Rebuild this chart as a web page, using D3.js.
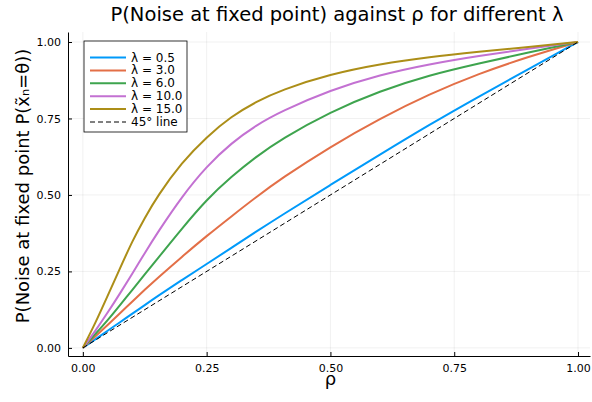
<!DOCTYPE html>
<html lang="en">
<head>
<meta charset="UTF-8">
<title>P(Noise at fixed point) against rho</title>
<script src="https://d3js.org/d3.v7.min.js"></script>
<style>
    body { margin: 0; background: #fff; }
    text { font-family: "DejaVu Sans", sans-serif; fill: #000; }
    .grid line { stroke: #000; stroke-opacity: 0.1; stroke-width: 0.6; }
</style>
</head>
<body>
<script>

    // values
    var rho = [0, 0.025, 0.05, 0.075, 0.1, 0.125, 0.15, 0.2, 0.25, 0.3, 0.35, 0.4, 0.5, 0.6, 0.7, 0.8, 0.9, 1.0];
    var lam05 = [0, 0.028, 0.056, 0.084, 0.112, 0.14, 0.168, 0.222, 0.274, 0.327, 0.38, 0.432, 0.533, 0.632, 0.73, 0.822, 0.912, 1];
    var lam3 = [0, 0.037, 0.075, 0.113, 0.152, 0.19, 0.227, 0.298, 0.366, 0.43, 0.493, 0.553, 0.658, 0.75, 0.83, 0.897, 0.952, 1];
    var lam6 = [0, 0.045, 0.09, 0.14, 0.19, 0.24, 0.29, 0.39, 0.485, 0.56, 0.625, 0.682, 0.772, 0.84, 0.892, 0.93, 0.966, 1];
    var lam10 = [0, 0.055, 0.115, 0.178, 0.243, 0.31, 0.375, 0.495, 0.594, 0.67, 0.728, 0.773, 0.843, 0.893, 0.928, 0.955, 0.978, 1];
    var lam15 = [0, 0.08, 0.17, 0.26, 0.35, 0.425, 0.495, 0.607, 0.69, 0.757, 0.805, 0.843, 0.895, 0.928, 0.951, 0.968, 0.984, 1];
    var diagonal = [0, 1];

    var seriesNames = ["λ = 0.5", "λ = 3.0", "λ = 6.0", "λ = 10.0", "λ = 15.0"];
    var seriesValues = [lam05, lam3, lam6, lam10, lam15];
    var colors = ["#009AFA", "#E36F47", "#3EA44E", "#C371D2", "#AC8E18"];
    var tickValues = [0, 0.25, 0.5, 0.75, 1];

    var width = 592, height = 402;
    var pLeft = 68, pRight = 590, pTop = 32, pBottom = 356;

    var svg = d3.select("body").append("svg")
        .attr("width", width)
        .attr("height", height);

    var x = d3.scaleLinear().domain([-0.03, 1.0242]).range([pLeft, pRight]);
    var y = d3.scaleLinear().domain([-0.0265, 1.0327]).range([pBottom, pTop]);

    // grid
    var grid = svg.append("g").attr("class", "grid");
    grid.selectAll(".gx").data(tickValues).enter().append("line")
        .attr("x1", d => x(d)).attr("x2", d => x(d))
        .attr("y1", pTop).attr("y2", pBottom);
    grid.selectAll(".gy").data(tickValues).enter().append("line")
        .attr("y1", d => y(d)).attr("y2", d => y(d))
        .attr("x1", pLeft).attr("x2", pRight);

    // axes
    var fmt = d3.format(".2f");
    var xAxis = svg.append("g")
        .attr("transform", "translate(0," + pBottom + ")")
        .call(d3.axisBottom(x).tickValues(tickValues).tickFormat(fmt).tickSizeInner(-4).tickSizeOuter(0).tickPadding(8));
    var yAxis = svg.append("g")
        .attr("transform", "translate(" + pLeft + ",0)")
        .call(d3.axisLeft(y).tickValues(tickValues).tickFormat(fmt).tickSizeInner(-4).tickSizeOuter(0).tickPadding(7));
    [xAxis, yAxis].forEach(function (a) {
        a.selectAll("text").style("font-size", "11px").attr("fill", "#000");
        a.selectAll("line").attr("stroke", "#000");
        a.select(".domain").attr("stroke", "#000");
    });

    // lines (basis spline to smooth between the read-off points)
    var line = d3.line()
        .x(d => x(d[0]))
        .y(d => y(d[1]))
        .curve(d3.curveBasis);

    var plot = svg.append("g");
    seriesValues.forEach(function (vals, i) {
        plot.append("path")
            .datum(rho.map((r, j) => [r, vals[j]]))
            .attr("d", line)
            .attr("fill", "none")
            .attr("stroke", colors[i])
            .attr("stroke-width", 2);
    });
    plot.append("path")
        .datum(diagonal.map(d => [d, d]))
        .attr("d", line)
        .attr("fill", "none")
        .attr("stroke", "#000")
        .attr("stroke-width", 1)
        .attr("stroke-dasharray", "5,3");

    // titles
    svg.append("text")
        .attr("x", 337).attr("y", 21)
        .attr("text-anchor", "middle")
        .style("font-size", "19.5px")
        .text("P(Noise at fixed point) against ρ for different λ");
    svg.append("text")
        .attr("x", x(0.5)).attr("y", 385)
        .attr("text-anchor", "middle")
        .style("font-size", "18px")
        .text("ρ");
    svg.append("text")
        .attr("transform", "translate(29,186) rotate(-90)")
        .attr("text-anchor", "middle")
        .style("font-size", "18px")
        .text("P(Noise at fixed point P(x̃ₙ=θ))");

    // legend
    var legend = svg.append("g").attr("transform", "translate(84,41)");
    legend.append("rect")
        .attr("width", 103).attr("height", 91)
        .attr("fill", "#fff")
        .attr("stroke", "#000")
        .attr("stroke-width", 0.8);
    var entries = seriesNames.concat(["45° line"]);
    entries.forEach(function (name, i) {
        var yy = 16.5 + i * 12.9;
        legend.append("line")
            .attr("x1", 6).attr("x2", 42)
            .attr("y1", yy).attr("y2", yy)
            .attr("stroke", i < 5 ? colors[i] : "#000")
            .attr("stroke-width", i < 5 ? 2 : 1)
            .attr("stroke-dasharray", i < 5 ? null : "5,3");
        legend.append("text")
            .attr("x", 47).attr("y", yy + 4)
            .style("font-size", "12px")
            .text(name);
    });

</script>
</body>
</html>
